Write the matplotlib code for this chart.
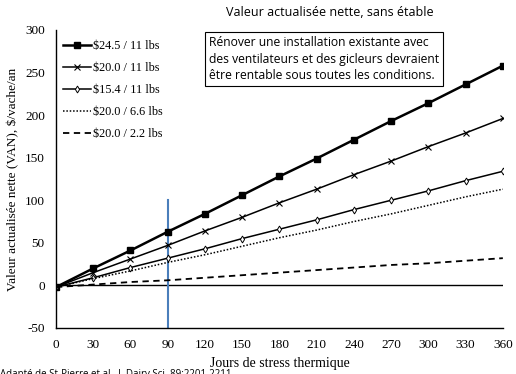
import matplotlib
matplotlib.use("Agg")
import matplotlib.pyplot as plt

plt.rcParams["axes.unicode_minus"] = False

# Jours de stress thermique
jours = [0, 30, 60, 90, 120, 150, 180, 210, 240, 270, 300, 330, 360]

# VAN ($/vache/an) par scénario prix du lait / perte de production
van_245_11 = [-2, 20, 41, 63, 84, 106, 128, 149, 171, 193, 214, 236, 258]
van_200_11 = [-2, 15, 31, 47, 64, 80, 97, 113, 130, 146, 163, 179, 196]
van_154_11 = [-2, 9, 21, 32, 43, 55, 66, 77, 89, 100, 111, 123, 134]
van_200_66 = [-2, 8, 17, 27, 36, 46, 56, 65, 75, 84, 94, 104, 113]
van_200_22 = [-2, 1, 4, 6, 9, 12, 15, 18, 21, 24, 26, 29, 32]

labels = ["$24.5 / 11 lbs", "$20.0 / 11 lbs", "$15.4 / 11 lbs",
          "$20.0 / 6.6 lbs", "$20.0 / 2.2 lbs"]
xticks = list(range(0, 361, 30))
yticks = list(range(-50, 301, 50))

serif = ["Liberation Serif", "DejaVu Serif"]
sans = ["Open Sans", "DejaVu Sans"]

fig = plt.figure(figsize=(5.16, 3.74), dpi=100)
ax = fig.add_axes([0.1085, 0.123, 0.866, 0.797])

ax.plot(jours, van_245_11, color="black", lw=1.8, marker="s", ms=4.5, label=labels[0])
ax.plot(jours, van_200_11, color="black", lw=1.1, marker="x", ms=4, mew=0.8, label=labels[1])
ax.plot(jours, van_154_11, color="black", lw=1.1, marker="d", ms=3.5, mfc="white",
        mew=0.7, label=labels[2])
ax.plot(jours, van_200_66, color="black", lw=1.1, ls=(0, (1, 1.2)), label=labels[3])
ax.plot(jours, van_200_22, color="black", lw=1.3, ls=(0, (3.5, 2.5)), label=labels[4])

# ligne de référence à zéro et repère à 90 jours
ax.plot([0, 360], [0, 0], color="black", lw=1.0, zorder=1)
ax.plot([90, 90], [-50, 100], color="#4A7EBB", lw=1.5, zorder=1)

ax.set_xlim(0, 360)
ax.set_ylim(-50, 300)
ax.set_xticks(xticks)
ax.set_yticks(yticks)
ax.tick_params(length=0, pad=8)
for lab in ax.get_xticklabels() + ax.get_yticklabels():
    lab.set_fontfamily(serif)
    lab.set_fontsize(9.5)
for s in ["top", "right"]:
    ax.spines[s].set_visible(False)
ax.spines["left"].set_linewidth(1.0)
ax.spines["bottom"].set_linewidth(1.0)

ax.set_xlabel("Jours de stress thermique", family=serif, fontsize=10, labelpad=4)
ax.set_ylabel("Valeur actualisée nette (VAN), $/vache/an", family=serif, fontsize=9.5,
              labelpad=4)

leg = ax.legend(loc="upper left", bbox_to_anchor=(0.0, 0.99), frameon=False,
                prop={"family": serif, "size": 8.8}, handlelength=2.3,
                handletextpad=0.1, labelspacing=0.82, borderaxespad=0.2)

fig.text(0.64, 0.967, "Valeur actualisée nette, sans étable", family=sans,
         fontsize=9, ha="center", va="center")

fig.text(0.405, 0.842,
         "Rénover une installation existante avec\n"
         "des ventilateurs et des gicleurs devraient\n"
         "être rentable sous toutes les conditions.",
         family=sans, fontsize=8.7, ha="left", va="center", linespacing=1.35,
         bbox=dict(boxstyle="square,pad=0.35", fc="white", ec="black", lw=0.8))

fig.text(0.0, 0.0, "Adapté de St-Pierre et al., J. Dairy Sci. 89:2201-2211",
         family=sans, fontsize=7, ha="left", va="center")

fig.savefig("out.png", dpi=100)
